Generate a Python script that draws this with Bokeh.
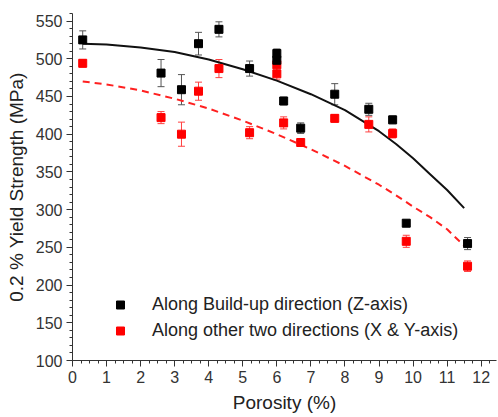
from bokeh.plotting import figure
from bokeh.models import ColumnDataSource, Whisker, Legend, LegendItem, FixedTicker, Range1d
from bokeh.embed import file_html
from bokeh.resources import INLINE

# Measured data: porosity (%) vs 0.2% yield strength (MPa)
z_porosity = [0.3, 2.6, 3.2, 3.7, 4.3, 5.2, 6.0, 6.0, 6.2, 6.7, 7.7, 8.7, 9.4, 9.8, 11.6]
z_strength = [525, 481, 459, 520, 539, 487, 507, 498, 444, 408, 453, 433, 419, 282, 255]
z_error    = [12, 18, 20, 15, 10, 10, 6, 6, 5, 7, 14, 8, 5, 4, 8]

xy_porosity = [0.3, 2.6, 3.2, 3.7, 4.3, 5.2, 6.0, 6.0, 6.2, 6.7, 7.7, 8.7, 9.4, 9.8, 11.6]
xy_strength = [494, 422, 400, 457, 487, 402, 492, 480, 415, 389, 421, 413, 401, 258, 225]
xy_error    = [5, 8, 16, 12, 12, 8, 8, 8, 8, 5, 5, 10, 6, 8, 7]

# Fit curves
z_fit_x = [0.3, 1, 2, 3, 4, 5, 6, 7, 8, 9, 9.5, 10, 10.5, 11, 11.5]
z_fit_y = [520, 519, 515, 509, 499, 486, 471, 453, 432, 404, 387, 368, 347, 326, 302]
xy_fit_x = [0.3, 1, 2, 3, 4, 5, 6, 7, 8, 9, 9.5, 10, 10.5, 11, 11.5]
xy_fit_y = [470, 466, 458, 447, 434, 418, 400, 380, 358, 333, 319, 304, 290, 274, 252]

x_ticks = [0, 1, 2, 3, 4, 5, 6, 7, 8, 9, 10, 11, 12]
y_ticks = [100, 150, 200, 250, 300, 350, 400, 450, 500, 550]

FONT = "Liberation Sans"

p = figure(width=498, height=417, output_backend="svg", toolbar_location=None,
           x_range=Range1d(0, 12.45), y_range=Range1d(100, 560),
           min_border_left=72, min_border_right=2, min_border_top=13, min_border_bottom=57)
p.outline_line_color = None
p.xgrid.visible = False
p.ygrid.visible = False
p.background_fill_color = "white"
p.border_fill_color = "white"

zs = ColumnDataSource(dict(x=z_porosity, y=z_strength,
                           lo=[v - e for v, e in zip(z_strength, z_error)],
                           hi=[v + e for v, e in zip(z_strength, z_error)]))
xys = ColumnDataSource(dict(x=xy_porosity, y=xy_strength,
                            lo=[v - e for v, e in zip(xy_strength, xy_error)],
                            hi=[v + e for v, e in zip(xy_strength, xy_error)]))

# fit lines
p.line(z_fit_x, z_fit_y, line_color="#111111", line_width=2)
p.line(xy_fit_x, xy_fit_y, line_color="#ff2020", line_width=2, line_dash="7 5")

# error bars
wz = Whisker(source=zs, base="x", lower="lo", upper="hi", line_color="#555555", line_width=1)
wz.upper_head.size = 7
wz.lower_head.size = 7
wz.upper_head.line_color = "#555555"
wz.lower_head.line_color = "#555555"
p.add_layout(wz)
wxy = Whisker(source=xys, base="x", lower="lo", upper="hi", line_color="#ff4040", line_width=1)
wxy.upper_head.size = 7
wxy.lower_head.size = 7
wxy.upper_head.line_color = "#ff4040"
wxy.lower_head.line_color = "#ff4040"
p.add_layout(wxy)

r_xy = p.scatter("x", "y", source=xys, marker="square", size=8, color="#ff0000")
r_z = p.scatter("x", "y", source=zs, marker="square", size=8, color="#000000")

legend = Legend(items=[
    LegendItem(label="Along Build-up direction (Z-axis)", renderers=[r_z]),
    LegendItem(label="Along other two directions (X & Y-axis)", renderers=[r_xy]),
], location=(38, 18))
legend.padding = 0
legend.margin = 0
legend.spacing = 3
legend.glyph_width = 20
legend.glyph_height = 23
legend.label_height = 23
legend.label_standoff = 22
legend.border_line_color = None
legend.background_fill_alpha = 0
legend.label_text_font = FONT
legend.label_text_font_size = "18px"
legend.label_text_color = "#222222"
p.add_layout(legend)

for ax in (p.xaxis[0], p.yaxis[0]):
    ax.axis_line_color = "#333333"
    ax.major_tick_line_color = "#333333"
    ax.minor_tick_line_color = "#333333"
    ax.major_tick_out = 6
    ax.major_tick_in = 0
    ax.minor_tick_out = 3
    ax.minor_tick_in = 0
    ax.major_label_text_font = FONT
    ax.major_label_text_font_size = "16px"
    ax.major_label_text_color = "#333333"
    ax.axis_label_text_font = FONT
    ax.axis_label_text_font_size = "19px"
    ax.axis_label_text_font_style = "normal"
    ax.axis_label_text_color = "#222222"

p.xaxis.ticker = FixedTicker(ticks=x_ticks,
                             minor_ticks=[i * 0.25 for i in range(0, 50)])
p.yaxis.ticker = FixedTicker(ticks=y_ticks,
                             minor_ticks=list(range(100, 561, 10)))
p.xaxis.axis_label = "Porosity (%)"
p.yaxis.axis_label = "0.2 % Yield Strength (MPa)"
p.xaxis.major_label_standoff = 4
p.yaxis.major_label_standoff = 4
p.xaxis.axis_label_standoff = 6
p.yaxis.axis_label_standoff = 6

open("out.html", "w").write(file_html(p, INLINE))
